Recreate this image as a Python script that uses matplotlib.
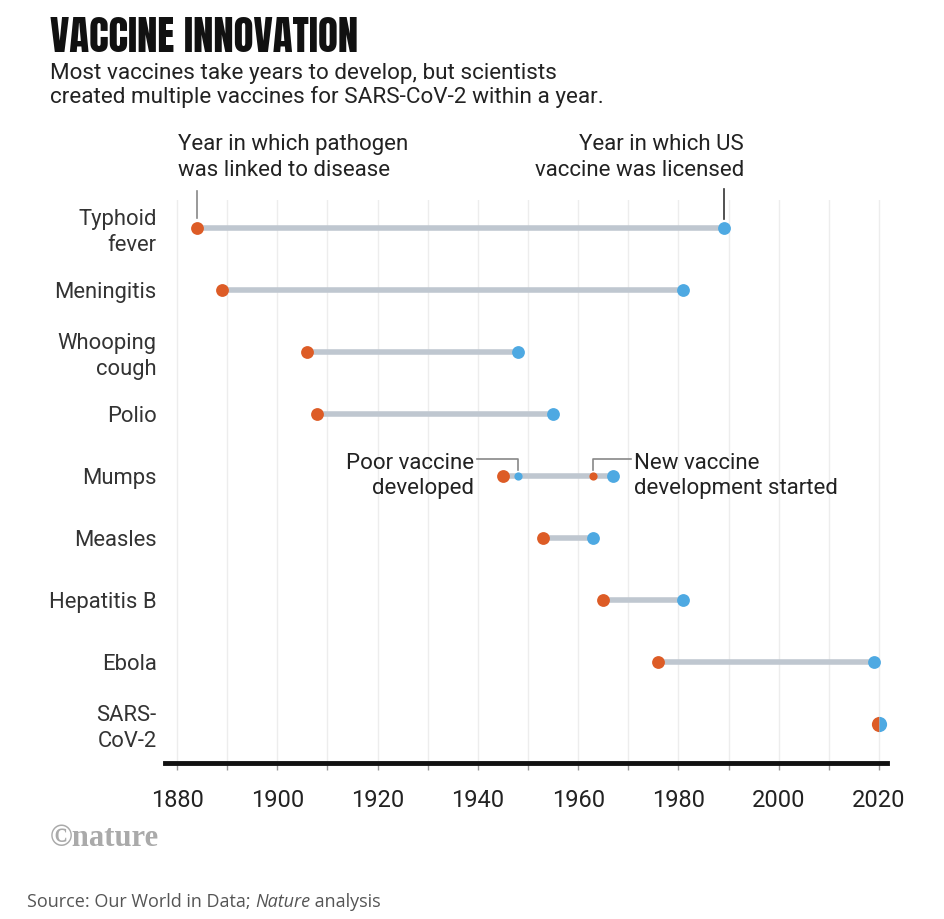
import matplotlib
matplotlib.use("Agg")
import matplotlib.pyplot as plt
from matplotlib.markers import MarkerStyle

# diseases, top to bottom
diseases = ["Typhoid\nfever", "Meningitis", "Whooping\ncough", "Polio", "Mumps",
            "Measles", "Hepatitis B", "Ebola", "SARS-\nCoV-2"]
linked_year = [1884, 1889, 1906, 1908, 1945, 1953, 1965, 1976, 2020]
licensed_year = [1989, 1981, 1948, 1955, 1967, 1963, 1981, 2019, 2020]

# mumps extra events
mumps_poor_vaccine = 1948
mumps_new_dev = 1963

years_ticks = [1880, 1900, 1920, 1940, 1960, 1980, 2000, 2020]

ORANGE = "#dd5c26"
BLUE = "#4ea9e2"
LINE = "#bfc7d0"
FONT = "Roboto"

plt.rcParams["font.family"] = FONT

fig = plt.figure(figsize=(9.44, 9.19), dpi=100)
ax = fig.add_axes([0.1748, 0.1697, 0.7648, 0.6127])

rows = list(range(len(diseases)))

# grid every 10 years
for yr in range(1880, 2030, 10):
    ax.axvline(yr, color="#ededed", lw=1, zorder=0)

for i in rows[:-1]:
    ax.plot([linked_year[i], licensed_year[i]], [i, i], color=LINE, lw=4,
            solid_capstyle="butt", zorder=1)
    ax.scatter(linked_year[i], i, s=85, color=ORANGE, zorder=3, linewidths=0)
    ax.scatter(licensed_year[i], i, s=85, color=BLUE, zorder=3, linewidths=0)

# mumps small markers
m = diseases.index("Mumps")
ax.scatter(mumps_poor_vaccine, m, s=35, color=BLUE, zorder=4, linewidths=0)
ax.scatter(mumps_new_dev, m, s=35, color=ORANGE, zorder=4, linewidths=0)

# SARS-CoV-2: half circles
s = len(diseases) - 1
ax.scatter(linked_year[s], s, s=120, color=ORANGE, linewidths=0, zorder=3,
           marker=MarkerStyle("o", fillstyle="left"))
ax.scatter(licensed_year[s], s, s=120, color=BLUE, linewidths=0, zorder=3,
           marker=MarkerStyle("o", fillstyle="right"))

ax.set_xlim(1877.6, 2021.6)
ax.set_ylim(8.63, -0.45)

ax.set_yticks(rows)
ax.set_yticklabels(diseases, fontsize=15.8, color="#333333", ha="right",
                   multialignment="right", linespacing=1.3)
ax.tick_params(axis="y", length=0, pad=6)

ax.set_xticks(years_ticks)
ax.set_xticks(range(1890, 2020, 20), minor=True)
ax.set_xticklabels([str(y) for y in years_ticks], fontsize=17, color="#222222")
ax.tick_params(axis="x", which="both", length=5, width=1, color="#999999",
               direction="out", pad=14)

for sp in ["top", "right", "left"]:
    ax.spines[sp].set_visible(False)
ax.spines["bottom"].set_linewidth(3.5)
ax.spines["bottom"].set_color("#111111")

# annotations
conn = dict(color="#888888", lw=1.2, clip_on=False, zorder=2)
ax.text(1880.1, -0.76, "Year in which pathogen\nwas linked to disease", fontsize=16,
        color="#222222", ha="left", va="bottom", linespacing=1.3)
ax.plot([linked_year[0], linked_year[0]], [-0.6, -0.16], **conn)

ax.text(1993.1, -0.76, "Year in which US\nvaccine was licensed", fontsize=16,
        color="#222222", ha="right", va="bottom", linespacing=1.3,
        multialignment="right")
ax.plot([licensed_year[0], licensed_year[0]], [-0.62, -0.14], color="#333333",
        lw=1.2, clip_on=False, zorder=2)

ax.text(1939.2, m, "Poor vaccine\ndeveloped", fontsize=16, color="#222222",
        ha="right", va="center", linespacing=1.3, multialignment="right")
ax.plot([1939.8, mumps_poor_vaccine, mumps_poor_vaccine], [m - 0.27, m - 0.27, m - 0.09],
        **conn)

ax.text(1971.2, m, "New vaccine\ndevelopment started", fontsize=16, color="#222222",
        ha="left", va="center", linespacing=1.3)
ax.plot([mumps_new_dev, mumps_new_dev, 1970.5], [m - 0.09, m - 0.27, m - 0.27], **conn)

# titles
fig.text(50 / 944, 1 - 52 / 919, "VACCINE INNOVATION", fontsize=29.5,
         family=["Anton", "DejaVu Sans"], color="#111111", va="baseline")
fig.text(50 / 944, 1 - 103 / 919,
         "Most vaccines take years to develop, but scientists\n"
         "created multiple vaccines for SARS-CoV-2 within a year.",
         fontsize=16.2, color="#222222", va="baseline", linespacing=1.1)

fig.text(50 / 944, 1 - 846 / 919, "\u00a9nature", fontsize=22, fontweight="bold",
         family="Liberation Serif", color="#aaaaaa", va="baseline")

t1 = fig.text(27 / 944, 1 - 907 / 919, "Source: Our World in Data; ", fontsize=13,
              family="Open Sans", color="#555555", va="baseline")
t2 = ax.annotate("Nature", xy=(1, 0), xycoords=t1, fontsize=13, family="Open Sans",
                 style="italic", color="#555555", va="bottom", annotation_clip=False)
ax.annotate(" analysis", xy=(1, 0), xycoords=t2, fontsize=13, family="Open Sans",
            color="#555555", va="bottom", annotation_clip=False)

fig.savefig("out.png", dpi=100, facecolor="white")
